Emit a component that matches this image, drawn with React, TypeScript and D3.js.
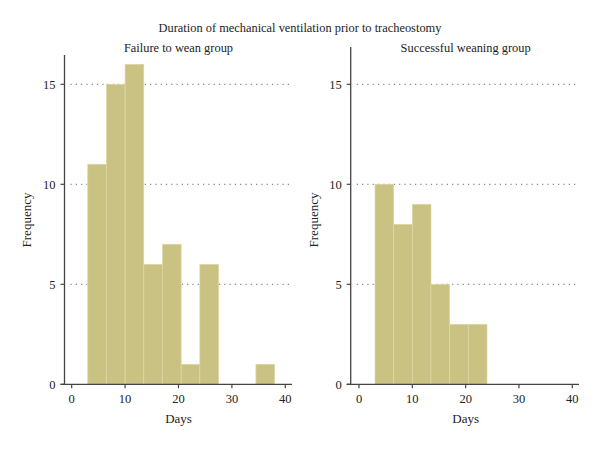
import React from "react";
import * as d3 from "d3";

const binStart = [3, 6.5, 10, 13.5, 17, 20.5, 24, 27.5, 31, 34.5];
const binWidth = 3.5;
const failureCounts = [11, 15, 16, 6, 7, 1, 6, 0, 0, 1];
const successCounts = [10, 8, 9, 5, 3, 3, 0, 0, 0, 0];
const xTicks = [0, 10, 20, 30, 40];
const yTicks = [0, 5, 10, 15];
const gridTicks = [5, 10, 15];

const FONT = "'Liberation Serif', 'Times New Roman', serif";
const BAR = "#c9c283";

type PanelProps = {
  counts: number[];
  title: string;
  x0: number; x40: number;
  axisLeft: number; axisRight: number; axisTop: number;
  labelX: number;
};

function Panel({ counts, title, x0, x40, axisLeft, axisRight, axisTop, labelX }: PanelProps) {
  const x = d3.scaleLinear().domain([0, 40]).range([x0, x40]);
  const y = d3.scaleLinear().domain([0, 15]).range([384.3, 84.3]);
  const base = y(0);
  const cx = (x0 + x40) / 2;
  return (
    <g>
      <text x={cx} y={52} textAnchor="middle" fontSize={12.4} fontFamily={FONT} fill="#222">{title}</text>
      {gridTicks.map((t) => (
        <line key={t} x1={axisLeft + 6} x2={axisRight} y1={y(t)} y2={y(t)}
          stroke="#888" strokeWidth={1.2} strokeDasharray="1.2 4.1" />
      ))}
      {counts.map((c, i) =>
        c > 0 ? (
          <rect key={i} x={x(binStart[i])} y={y(c)} width={x(binStart[i] + binWidth) - x(binStart[i])}
            height={base - y(c)} fill={BAR} stroke="#ddd8a6" strokeWidth={0.7} />
        ) : null
      )}
      <line x1={axisLeft} x2={axisLeft} y1={axisTop} y2={base} stroke="#444" strokeWidth={1.3} />
      <line x1={axisLeft - 4} x2={axisRight} y1={base} y2={base} stroke="#444" strokeWidth={1.3} />
      {yTicks.map((t) => (
        <g key={t}>
          <line x1={axisLeft - 4} x2={axisLeft} y1={y(t)} y2={y(t)} stroke="#444" strokeWidth={1.2} />
          <text x={axisLeft - 9} y={y(t) + 4.5} textAnchor="end" fontSize={12.5} fontFamily={FONT} fill="#222">{t}</text>
        </g>
      ))}
      {xTicks.map((t) => (
        <g key={t}>
          <line x1={x(t)} x2={x(t)} y1={base} y2={base + 4} stroke="#444" strokeWidth={1.2} />
          <text x={x(t)} y={403} textAnchor="middle" fontSize={12.5} fontFamily={FONT} fill="#222">{t}</text>
        </g>
      ))}
      <text x={cx} y={423} textAnchor="middle" fontSize={13} fontFamily={FONT} fill="#222">Days</text>
      <text transform={`translate(${labelX},220) rotate(-90)`} textAnchor="middle" fontSize={13} fontFamily={FONT} fill="#222">Frequency</text>
    </g>
  );
}

export default function App() {
  return (
    <svg width={600} height={449} style={{ position: "absolute", left: 0, top: 0, background: "#fff" }}>
      <rect width={600} height={449} fill="#fff" />
      <text x={300} y={32} textAnchor="middle" fontSize={12.4} fontFamily={FONT} fill="#222">
        Duration of mechanical ventilation prior to tracheostomy
      </text>
      <Panel counts={failureCounts} title="Failure to wean group" x0={71.7} x40={285.3}
        axisLeft={64.5} axisRight={292} axisTop={55} labelX={31} />
      <Panel counts={successCounts} title="Successful weaning group" x0={359} x40={572.3}
        axisLeft={350.7} axisRight={579} axisTop={47} labelX={318} />
    </svg>
  );
}
